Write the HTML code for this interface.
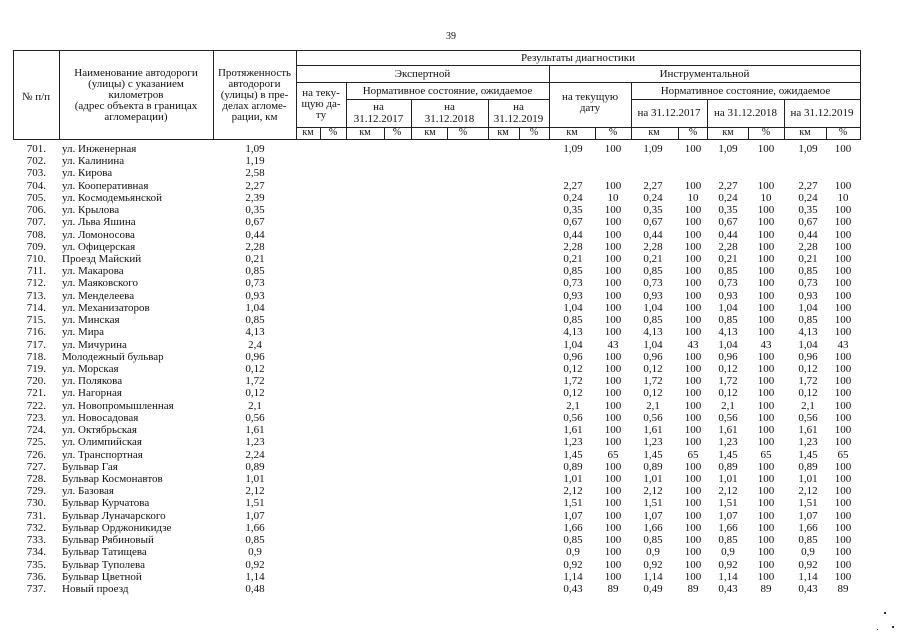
<!DOCTYPE html>
<html lang="ru">
<head>
<meta charset="utf-8">
<style>
html,body{margin:0;padding:0;background:#fff;}
body{width:905px;height:640px;position:relative;overflow:hidden;font-family:"Liberation Serif","DejaVu Serif",serif;color:#111;font-size:11px;}
.h{position:absolute;height:1px;background:#222;}
.v{position:absolute;width:1px;background:#222;}
.t{position:absolute;line-height:12px;height:12px;white-space:nowrap;text-align:center;}
.r{position:absolute;left:0;width:905px;height:12px;line-height:12px;}
.r span{position:absolute;top:0;white-space:nowrap;}
.r .n{left:16px;width:30px;text-align:right;}
.r .s{left:62px;}
.r .l{left:225px;width:60px;text-align:center;}
.r .a1,.r .a2,.r .a3,.r .a4,.r .a5,.r .a6,.r .a7,.r .a8{width:40px;text-align:center;}
.r .a1{left:553px;}
.r .a2{left:593px;}
.r .a3{left:633px;}
.r .a4{left:673px;}
.r .a5{left:708px;}
.r .a6{left:746px;}
.r .a7{left:788px;}
.r .a8{left:823px;}
.dot{position:absolute;background:#333;}
</style>
</head>
<body>

<div class="t" style="left:431px;top:31px;width:40px;font-size:10px;">39</div>

<!-- Table lines -->
<div class="h" style="left:13px;top:50px;width:848px;"></div>
<div class="h" style="left:13px;top:139px;width:848px;"></div>
<div class="v" style="left:13px;top:50px;height:90px;"></div>
<div class="v" style="left:860px;top:50px;height:90px;"></div>
<div class="v" style="left:59px;top:50px;height:90px;"></div>
<div class="v" style="left:213px;top:50px;height:90px;"></div>
<div class="v" style="left:296px;top:50px;height:90px;"></div>

<div class="h" style="left:296px;top:65px;width:565px;"></div>
<div class="v" style="left:549px;top:65px;height:75px;"></div>
<div class="h" style="left:296px;top:82px;width:565px;"></div>
<div class="v" style="left:346px;top:82px;height:58px;"></div>
<div class="v" style="left:631px;top:82px;height:58px;"></div>
<div class="h" style="left:346px;top:99px;width:203px;"></div>
<div class="h" style="left:631px;top:99px;width:229px;"></div>
<div class="v" style="left:411px;top:99px;height:41px;"></div>
<div class="v" style="left:488px;top:99px;height:41px;"></div>
<div class="v" style="left:707px;top:99px;height:41px;"></div>
<div class="v" style="left:784px;top:99px;height:41px;"></div>
<div class="h" style="left:296px;top:127px;width:565px;"></div>
<div class="v" style="left:320px;top:127px;height:12px;"></div>
<div class="v" style="left:384px;top:127px;height:12px;"></div>
<div class="v" style="left:447px;top:127px;height:12px;"></div>
<div class="v" style="left:519px;top:127px;height:12px;"></div>
<div class="v" style="left:595px;top:127px;height:12px;"></div>
<div class="v" style="left:678px;top:127px;height:12px;"></div>
<div class="v" style="left:748px;top:127px;height:12px;"></div>
<div class="v" style="left:826px;top:127px;height:12px;"></div>

<!-- Header text -->
<div class="t" style="left:13px;top:91px;width:46px;">№ п/п</div>
<div class="t" style="left:59px;top:66.5px;width:154px;">Наименование автодороги</div>
<div class="t" style="left:59px;top:77.5px;width:154px;">(улицы) с указанием</div>
<div class="t" style="left:59px;top:88.5px;width:154px;">километров</div>
<div class="t" style="left:59px;top:100px;width:154px;">(адрес объекта в границах</div>
<div class="t" style="left:59px;top:111px;width:154px;">агломерации)</div>

<div class="t" style="left:213px;top:66.5px;width:83px;">Протяженность</div>
<div class="t" style="left:213px;top:77.5px;width:83px;">автодороги</div>
<div class="t" style="left:213px;top:88.5px;width:83px;">(улицы) в пре-</div>
<div class="t" style="left:213px;top:100px;width:83px;">делах агломе-</div>
<div class="t" style="left:213px;top:111px;width:83px;">рации, км</div>

<div class="t" style="left:296px;top:51.5px;width:564px;">Результаты диагностики</div>
<div class="t" style="left:296px;top:67.5px;width:253px;">Экспертной</div>
<div class="t" style="left:549px;top:67.5px;width:311px;">Инструментальной</div>

<div class="t" style="left:296px;top:87px;width:50px;">на теку-</div>
<div class="t" style="left:296px;top:98px;width:50px;">щую да-</div>
<div class="t" style="left:296px;top:108.5px;width:50px;">ту</div>
<div class="t" style="left:346px;top:84.5px;width:203px;">Нормативное состояние, ожидаемое</div>
<div class="t" style="left:346px;top:101px;width:65px;">на</div>
<div class="t" style="left:346px;top:112.5px;width:65px;">31.12.2017</div>
<div class="t" style="left:411px;top:101px;width:77px;">на</div>
<div class="t" style="left:411px;top:112.5px;width:77px;">31.12.2018</div>
<div class="t" style="left:488px;top:101px;width:61px;">на</div>
<div class="t" style="left:488px;top:112.5px;width:61px;">31.12.2019</div>

<div class="t" style="left:549px;top:91px;width:82px;">на текущую</div>
<div class="t" style="left:549px;top:102px;width:82px;">дату</div>
<div class="t" style="left:631px;top:84.5px;width:229px;">Нормативное состояние, ожидаемое</div>
<div class="t" style="left:631px;top:107px;width:76px;">на 31.12.2017</div>
<div class="t" style="left:707px;top:107px;width:77px;">на 31.12.2018</div>
<div class="t" style="left:784px;top:107px;width:76px;">на 31.12.2019</div>

<div class="t" style="left:288px;top:127px;width:40px;font-size:10px;">км</div>
<div class="t" style="left:313px;top:127px;width:40px;font-size:10px;">%</div>
<div class="t" style="left:345px;top:127px;width:40px;font-size:10px;">км</div>
<div class="t" style="left:377px;top:127px;width:40px;font-size:10px;">%</div>
<div class="t" style="left:410px;top:127px;width:40px;font-size:10px;">км</div>
<div class="t" style="left:443px;top:127px;width:40px;font-size:10px;">%</div>
<div class="t" style="left:483px;top:127px;width:40px;font-size:10px;">км</div>
<div class="t" style="left:514px;top:127px;width:40px;font-size:10px;">%</div>
<div class="t" style="left:552px;top:127px;width:40px;font-size:10px;">км</div>
<div class="t" style="left:593px;top:127px;width:40px;font-size:10px;">%</div>
<div class="t" style="left:634px;top:127px;width:40px;font-size:10px;">км</div>
<div class="t" style="left:673px;top:127px;width:40px;font-size:10px;">%</div>
<div class="t" style="left:708px;top:127px;width:40px;font-size:10px;">км</div>
<div class="t" style="left:746px;top:127px;width:40px;font-size:10px;">%</div>
<div class="t" style="left:785px;top:127px;width:40px;font-size:10px;">км</div>
<div class="t" style="left:823px;top:127px;width:40px;font-size:10px;">%</div>

<!-- Data rows -->
<div class="r" style="top:143px"><span class="n">701.</span><span class="s">ул. Инженерная</span><span class="l">1,09</span><span class="a1">1,09</span><span class="a2">100</span><span class="a3">1,09</span><span class="a4">100</span><span class="a5">1,09</span><span class="a6">100</span><span class="a7">1,09</span><span class="a8">100</span></div>
<div class="r" style="top:155.2px"><span class="n">702.</span><span class="s">ул. Калинина</span><span class="l">1,19</span></div>
<div class="r" style="top:167.4px"><span class="n">703.</span><span class="s">ул. Кирова</span><span class="l">2,58</span></div>
<div class="r" style="top:179.7px"><span class="n">704.</span><span class="s">ул. Кооперативная</span><span class="l">2,27</span><span class="a1">2,27</span><span class="a2">100</span><span class="a3">2,27</span><span class="a4">100</span><span class="a5">2,27</span><span class="a6">100</span><span class="a7">2,27</span><span class="a8">100</span></div>
<div class="r" style="top:191.9px"><span class="n">705.</span><span class="s">ул. Космодемьянской</span><span class="l">2,39</span><span class="a1">0,24</span><span class="a2">10</span><span class="a3">0,24</span><span class="a4">10</span><span class="a5">0,24</span><span class="a6">10</span><span class="a7">0,24</span><span class="a8">10</span></div>
<div class="r" style="top:204.1px"><span class="n">706.</span><span class="s">ул. Крылова</span><span class="l">0,35</span><span class="a1">0,35</span><span class="a2">100</span><span class="a3">0,35</span><span class="a4">100</span><span class="a5">0,35</span><span class="a6">100</span><span class="a7">0,35</span><span class="a8">100</span></div>
<div class="r" style="top:216.3px"><span class="n">707.</span><span class="s">ул. Льва Яшина</span><span class="l">0,67</span><span class="a1">0,67</span><span class="a2">100</span><span class="a3">0,67</span><span class="a4">100</span><span class="a5">0,67</span><span class="a6">100</span><span class="a7">0,67</span><span class="a8">100</span></div>
<div class="r" style="top:228.5px"><span class="n">708.</span><span class="s">ул. Ломоносова</span><span class="l">0,44</span><span class="a1">0,44</span><span class="a2">100</span><span class="a3">0,44</span><span class="a4">100</span><span class="a5">0,44</span><span class="a6">100</span><span class="a7">0,44</span><span class="a8">100</span></div>
<div class="r" style="top:240.8px"><span class="n">709.</span><span class="s">ул. Офицерская</span><span class="l">2,28</span><span class="a1">2,28</span><span class="a2">100</span><span class="a3">2,28</span><span class="a4">100</span><span class="a5">2,28</span><span class="a6">100</span><span class="a7">2,28</span><span class="a8">100</span></div>
<div class="r" style="top:253px"><span class="n">710.</span><span class="s">Проезд Майский</span><span class="l">0,21</span><span class="a1">0,21</span><span class="a2">100</span><span class="a3">0,21</span><span class="a4">100</span><span class="a5">0,21</span><span class="a6">100</span><span class="a7">0,21</span><span class="a8">100</span></div>
<div class="r" style="top:265.2px"><span class="n">711.</span><span class="s">ул. Макарова</span><span class="l">0,85</span><span class="a1">0,85</span><span class="a2">100</span><span class="a3">0,85</span><span class="a4">100</span><span class="a5">0,85</span><span class="a6">100</span><span class="a7">0,85</span><span class="a8">100</span></div>
<div class="r" style="top:277.4px"><span class="n">712.</span><span class="s">ул. Маяковского</span><span class="l">0,73</span><span class="a1">0,73</span><span class="a2">100</span><span class="a3">0,73</span><span class="a4">100</span><span class="a5">0,73</span><span class="a6">100</span><span class="a7">0,73</span><span class="a8">100</span></div>
<div class="r" style="top:289.6px"><span class="n">713.</span><span class="s">ул. Менделеева</span><span class="l">0,93</span><span class="a1">0,93</span><span class="a2">100</span><span class="a3">0,93</span><span class="a4">100</span><span class="a5">0,93</span><span class="a6">100</span><span class="a7">0,93</span><span class="a8">100</span></div>
<div class="r" style="top:301.9px"><span class="n">714.</span><span class="s">ул. Механизаторов</span><span class="l">1,04</span><span class="a1">1,04</span><span class="a2">100</span><span class="a3">1,04</span><span class="a4">100</span><span class="a5">1,04</span><span class="a6">100</span><span class="a7">1,04</span><span class="a8">100</span></div>
<div class="r" style="top:314.1px"><span class="n">715.</span><span class="s">ул. Минская</span><span class="l">0,85</span><span class="a1">0,85</span><span class="a2">100</span><span class="a3">0,85</span><span class="a4">100</span><span class="a5">0,85</span><span class="a6">100</span><span class="a7">0,85</span><span class="a8">100</span></div>
<div class="r" style="top:326.3px"><span class="n">716.</span><span class="s">ул. Мира</span><span class="l">4,13</span><span class="a1">4,13</span><span class="a2">100</span><span class="a3">4,13</span><span class="a4">100</span><span class="a5">4,13</span><span class="a6">100</span><span class="a7">4,13</span><span class="a8">100</span></div>
<div class="r" style="top:338.5px"><span class="n">717.</span><span class="s">ул. Мичурина</span><span class="l">2,4</span><span class="a1">1,04</span><span class="a2">43</span><span class="a3">1,04</span><span class="a4">43</span><span class="a5">1,04</span><span class="a6">43</span><span class="a7">1,04</span><span class="a8">43</span></div>
<div class="r" style="top:350.7px"><span class="n">718.</span><span class="s">Молодежный бульвар</span><span class="l">0,96</span><span class="a1">0,96</span><span class="a2">100</span><span class="a3">0,96</span><span class="a4">100</span><span class="a5">0,96</span><span class="a6">100</span><span class="a7">0,96</span><span class="a8">100</span></div>
<div class="r" style="top:363px"><span class="n">719.</span><span class="s">ул. Морская</span><span class="l">0,12</span><span class="a1">0,12</span><span class="a2">100</span><span class="a3">0,12</span><span class="a4">100</span><span class="a5">0,12</span><span class="a6">100</span><span class="a7">0,12</span><span class="a8">100</span></div>
<div class="r" style="top:375.2px"><span class="n">720.</span><span class="s">ул. Полякова</span><span class="l">1,72</span><span class="a1">1,72</span><span class="a2">100</span><span class="a3">1,72</span><span class="a4">100</span><span class="a5">1,72</span><span class="a6">100</span><span class="a7">1,72</span><span class="a8">100</span></div>
<div class="r" style="top:387.4px"><span class="n">721.</span><span class="s">ул. Нагорная</span><span class="l">0,12</span><span class="a1">0,12</span><span class="a2">100</span><span class="a3">0,12</span><span class="a4">100</span><span class="a5">0,12</span><span class="a6">100</span><span class="a7">0,12</span><span class="a8">100</span></div>
<div class="r" style="top:399.6px"><span class="n">722.</span><span class="s">ул. Новопромышленная</span><span class="l">2,1</span><span class="a1">2,1</span><span class="a2">100</span><span class="a3">2,1</span><span class="a4">100</span><span class="a5">2,1</span><span class="a6">100</span><span class="a7">2,1</span><span class="a8">100</span></div>
<div class="r" style="top:411.8px"><span class="n">723.</span><span class="s">ул. Новосадовая</span><span class="l">0,56</span><span class="a1">0,56</span><span class="a2">100</span><span class="a3">0,56</span><span class="a4">100</span><span class="a5">0,56</span><span class="a6">100</span><span class="a7">0,56</span><span class="a8">100</span></div>
<div class="r" style="top:424.1px"><span class="n">724.</span><span class="s">ул. Октябрьская</span><span class="l">1,61</span><span class="a1">1,61</span><span class="a2">100</span><span class="a3">1,61</span><span class="a4">100</span><span class="a5">1,61</span><span class="a6">100</span><span class="a7">1,61</span><span class="a8">100</span></div>
<div class="r" style="top:436.3px"><span class="n">725.</span><span class="s">ул. Олимпийская</span><span class="l">1,23</span><span class="a1">1,23</span><span class="a2">100</span><span class="a3">1,23</span><span class="a4">100</span><span class="a5">1,23</span><span class="a6">100</span><span class="a7">1,23</span><span class="a8">100</span></div>
<div class="r" style="top:448.5px"><span class="n">726.</span><span class="s">ул. Транспортная</span><span class="l">2,24</span><span class="a1">1,45</span><span class="a2">65</span><span class="a3">1,45</span><span class="a4">65</span><span class="a5">1,45</span><span class="a6">65</span><span class="a7">1,45</span><span class="a8">65</span></div>
<div class="r" style="top:460.7px"><span class="n">727.</span><span class="s">Бульвар Гая</span><span class="l">0,89</span><span class="a1">0,89</span><span class="a2">100</span><span class="a3">0,89</span><span class="a4">100</span><span class="a5">0,89</span><span class="a6">100</span><span class="a7">0,89</span><span class="a8">100</span></div>
<div class="r" style="top:472.9px"><span class="n">728.</span><span class="s">Бульвар Космонавтов</span><span class="l">1,01</span><span class="a1">1,01</span><span class="a2">100</span><span class="a3">1,01</span><span class="a4">100</span><span class="a5">1,01</span><span class="a6">100</span><span class="a7">1,01</span><span class="a8">100</span></div>
<div class="r" style="top:485.2px"><span class="n">729.</span><span class="s">ул. Базовая</span><span class="l">2,12</span><span class="a1">2,12</span><span class="a2">100</span><span class="a3">2,12</span><span class="a4">100</span><span class="a5">2,12</span><span class="a6">100</span><span class="a7">2,12</span><span class="a8">100</span></div>
<div class="r" style="top:497.4px"><span class="n">730.</span><span class="s">Бульвар Курчатова</span><span class="l">1,51</span><span class="a1">1,51</span><span class="a2">100</span><span class="a3">1,51</span><span class="a4">100</span><span class="a5">1,51</span><span class="a6">100</span><span class="a7">1,51</span><span class="a8">100</span></div>
<div class="r" style="top:509.6px"><span class="n">731.</span><span class="s">Бульвар Луначарского</span><span class="l">1,07</span><span class="a1">1,07</span><span class="a2">100</span><span class="a3">1,07</span><span class="a4">100</span><span class="a5">1,07</span><span class="a6">100</span><span class="a7">1,07</span><span class="a8">100</span></div>
<div class="r" style="top:521.8px"><span class="n">732.</span><span class="s">Бульвар Орджоникидзе</span><span class="l">1,66</span><span class="a1">1,66</span><span class="a2">100</span><span class="a3">1,66</span><span class="a4">100</span><span class="a5">1,66</span><span class="a6">100</span><span class="a7">1,66</span><span class="a8">100</span></div>
<div class="r" style="top:534px"><span class="n">733.</span><span class="s">Бульвар Рябиновый</span><span class="l">0,85</span><span class="a1">0,85</span><span class="a2">100</span><span class="a3">0,85</span><span class="a4">100</span><span class="a5">0,85</span><span class="a6">100</span><span class="a7">0,85</span><span class="a8">100</span></div>
<div class="r" style="top:546.3px"><span class="n">734.</span><span class="s">Бульвар Татищева</span><span class="l">0,9</span><span class="a1">0,9</span><span class="a2">100</span><span class="a3">0,9</span><span class="a4">100</span><span class="a5">0,9</span><span class="a6">100</span><span class="a7">0,9</span><span class="a8">100</span></div>
<div class="r" style="top:558.5px"><span class="n">735.</span><span class="s">Бульвар Туполева</span><span class="l">0,92</span><span class="a1">0,92</span><span class="a2">100</span><span class="a3">0,92</span><span class="a4">100</span><span class="a5">0,92</span><span class="a6">100</span><span class="a7">0,92</span><span class="a8">100</span></div>
<div class="r" style="top:570.7px"><span class="n">736.</span><span class="s">Бульвар Цветной</span><span class="l">1,14</span><span class="a1">1,14</span><span class="a2">100</span><span class="a3">1,14</span><span class="a4">100</span><span class="a5">1,14</span><span class="a6">100</span><span class="a7">1,14</span><span class="a8">100</span></div>
<div class="r" style="top:582.9px"><span class="n">737.</span><span class="s">Новый проезд</span><span class="l">0,48</span><span class="a1">0,43</span><span class="a2">89</span><span class="a3">0,49</span><span class="a4">89</span><span class="a5">0,43</span><span class="a6">89</span><span class="a7">0,43</span><span class="a8">89</span></div>

<!-- scan specks -->
<div class="dot" style="left:884px;top:612px;width:2px;height:2px;"></div>
<div class="dot" style="left:892px;top:626px;width:2px;height:2px;"></div>
<div class="dot" style="left:877px;top:629px;width:1px;height:1px;"></div>
</body>
</html>
